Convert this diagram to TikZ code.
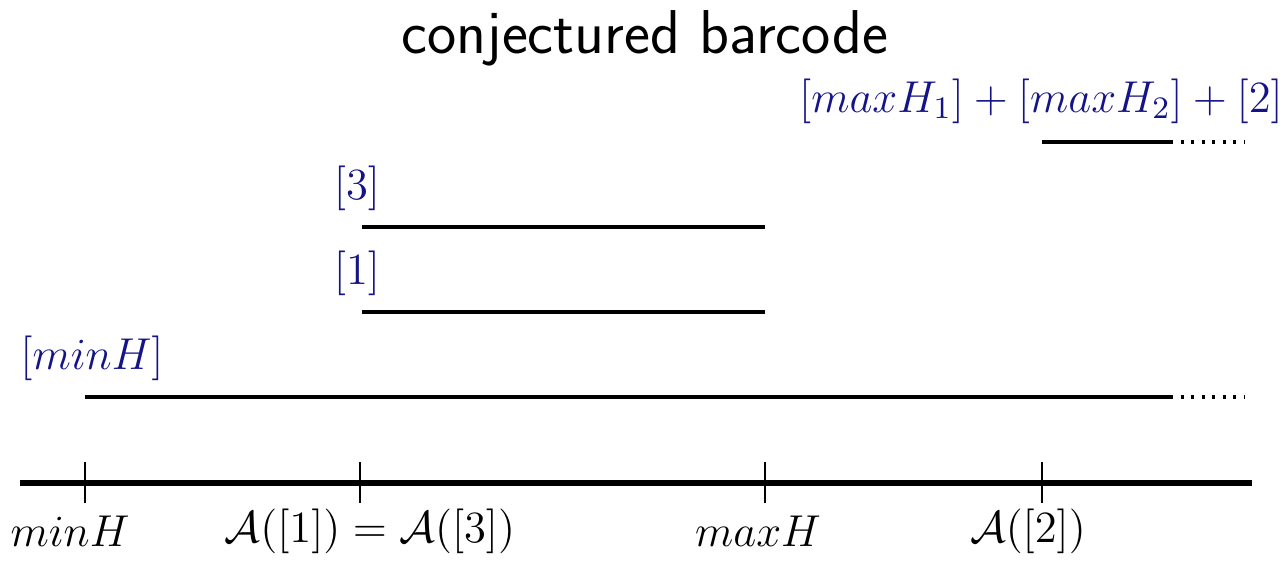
\RequirePackage{fix-cm}
\documentclass[tikz,border=0pt]{standalone}
\usepackage{tikz}
\usetikzlibrary{calc}
\usetikzlibrary{positioning}
\usepackage{amsmath}
\definecolor{navy}{RGB}{20,20,135}

\begin{document}
\begin{tikzpicture}[x=0.01cm,y=-0.01cm]
			\def\fs{\fontsize{12.7}{15}\selectfont}

			\tikzset{axis/.style={draw,line width=1.5pt}}
			\tikzset{tick/.style={draw,line width=0.5pt}}
			\tikzset{bar/.style={draw,line width=0.9pt}}
			\tikzset{dots/.style={draw,line width=1pt,dash pattern=on 0.9pt off 2.1pt}}
			\tikzset{cls/.style={text=navy,inner sep=0pt,font=\fs}}
			\tikzset{val/.style={inner sep=0pt,font=\fs}}

			\useasboundingbox (0,0) rectangle (1286,564);

			% title
			\node[inner sep=0pt,font=\sffamily\fontsize{17.6}{21}\selectfont] (title) at (645,38) {conjectured barcode};

			% axis
			\coordinate (a0) at (20,483);
			\coordinate (a1) at (1252,483);
			\draw[axis] (a0) -- (a1);

			% ticks
			\coordinate (t1) at (85,483);
			\coordinate (t2) at (360,483);
			\coordinate (t3) at (765,483);
			\coordinate (t4) at (1042,483);
			\draw[tick] ($(t1)+(0,-21)$) -- ($(t1)+(0,20)$);
			\draw[tick] ($(t2)+(0,-21)$) -- ($(t2)+(0,20)$);
			\draw[tick] ($(t3)+(0,-21)$) -- ($(t3)+(0,20)$);
			\draw[tick] ($(t4)+(0,-21)$) -- ($(t4)+(0,20)$);

			\node[val] (v1) at (70,531) {$minH$};
			\node[val] (v2) at (370,531) {$\mathcal{A}([1])=\mathcal{A}([3])$};
			\node[val] (v3) at (758,531) {$maxH$};
			\node[val] (v4) at (1028,531) {$\mathcal{A}([2])$};

			% bars
			\coordinate (b0s) at (85,397);
			\coordinate (b0e) at (1170,397);
			\coordinate (b0d) at (1245,397);
			\coordinate (b1s) at (362,312);
			\coordinate (b1e) at (765,312);
			\coordinate (b3s) at (362,227);
			\coordinate (b3e) at (765,227);
			\coordinate (b2s) at (1042,142);
			\coordinate (b2e) at (1170,142);
			\coordinate (b2d) at (1245,142);

			\draw[bar] (b0s) -- (b0e);
			\draw[dots] (b0e) -- (b0d);
			\draw[bar] (b1s) -- (b1e);
			\draw[bar] (b3s) -- (b3e);
			\draw[bar] (b2s) -- (b2e);
			\draw[dots] (b2e) -- (b2d);

			\node[cls] (c0) at (92,358) {$[minH]$};
			\node[cls] (c1) at (357,273) {$[1]$};
			\node[cls] (c3) at (357,188) {$[3]$};
			\node[cls] (c2) at (1041,101) {$[maxH_1]+[maxH_2]+[2]$};
		\end{tikzpicture}
\end{document}
